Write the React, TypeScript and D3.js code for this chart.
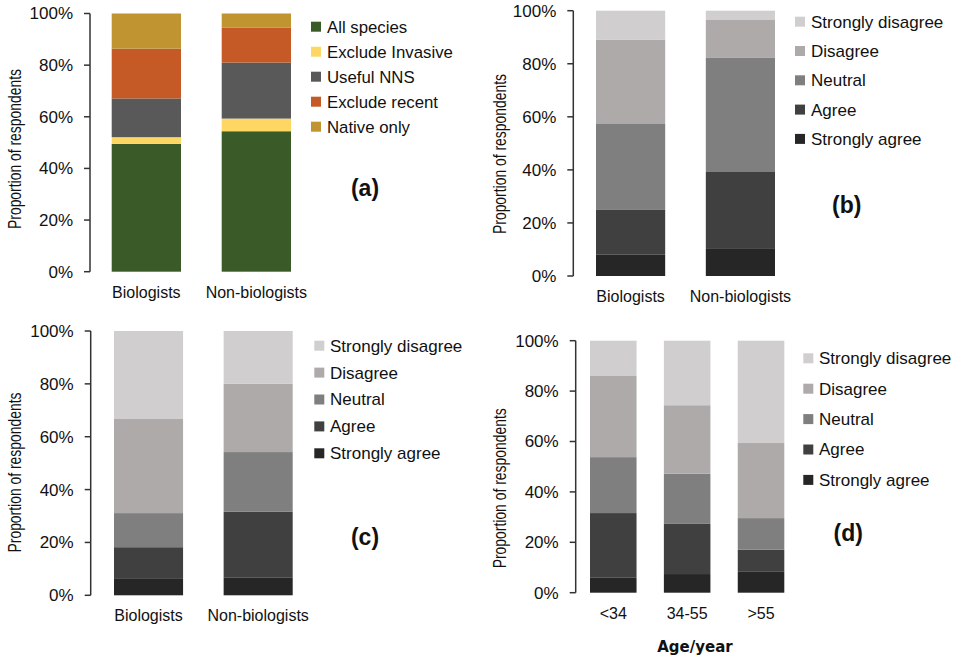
import * as d3 from "d3";

// panel (a): species lists
const listCategories = ["Biologists", "Non-biologists"];
const listSeries = ["All species", "Exclude Invasive", "Useful NNS", "Exclude recent", "Native only"];
const listBiologists = [49.5, 2.6, 15.0, 19.3, 13.6];
const listNonBiologists = [54.4, 4.9, 21.7, 13.6, 5.4];

// likert answers, bottom of stack first
const likertSeries = ["Strongly agree", "Agree", "Neutral", "Disagree", "Strongly disagree"];

// panel (b)
const bBiologists = [8.0, 16.9, 32.4, 31.7, 11.0];
const bNonBiologists = [10.2, 29.0, 43.0, 14.3, 3.5];

// panel (c)
const cBiologists = [6.2, 12.0, 12.9, 35.6, 33.3];
const cNonBiologists = [6.8, 24.8, 22.6, 25.8, 20.0];

// panel (d): by age
const ageCategories = ["<34", "34-55", ">55"];
const dUnder34 = [6.1, 25.5, 22.2, 32.2, 14.0];
const d34to55 = [7.4, 19.9, 19.9, 27.2, 25.6];
const dOver55 = [8.5, 8.6, 12.5, 29.8, 40.6];

const yTicks = [0, 0.2, 0.4, 0.6, 0.8, 1];

const listColors = ["#3a5a27", "#fdd664", "#595959", "#c55a26", "#bf9431"];
const greyColors = ["#262626", "#404040", "#7f7f7f", "#aeaaaa", "#d0cece"];

const FONT = "'Liberation Sans', Arial, sans-serif";

interface PanelProps {
  categories: string[];
  series: string[];
  rows: number[][];
  colors: string[];
  axisX: number;
  yTop: number;
  yBottom: number;
  barStart: number;
  barEnd: number;
  titleX: number;
  titleY: number;
  legendSquareX: number;
  legendTextX: number;
  legendY: number;
  legendStep: number;
  legendFont: number;
  legendReversed: boolean;
  label: string;
  labelX: number;
  labelY: number;
}

function Panel(p: PanelProps) {
  const table = p.categories.map((c, i) => {
    const row: any = { category: c };
    p.series.forEach((s, j) => (row[s] = p.rows[i][j] / 100));
    return row;
  });
  const stacked = d3.stack<any>().keys(p.series)(table);

  const x = d3
    .scaleBand<string>()
    .domain(p.categories)
    .range([p.barStart, p.barEnd])
    .paddingInner(0.37)
    .paddingOuter(0);
  const y = d3.scaleLinear().domain([0, 1]).range([p.yBottom, p.yTop]);
  const fmt = d3.format(".0%");

  const legendItems = p.series.map((s, i) => ({ name: s, color: p.colors[i] }));
  if (p.legendReversed) legendItems.reverse();

  return (
    <g fontFamily={FONT}>
      {stacked.map((layer, i) => (
        <g key={layer.key} fill={p.colors[i]}>
          {layer.map((d, j) => (
            <rect
              key={j}
              x={x(p.categories[j])}
              y={y(d[1])}
              width={x.bandwidth()}
              height={y(d[0]) - y(d[1])}
            />
          ))}
        </g>
      ))}

      <line x1={p.axisX} x2={p.axisX} y1={p.yTop} y2={p.yBottom} stroke="#333" strokeWidth={1.5} />
      {yTicks.map((t) => (
        <g key={t}>
          <line x1={p.axisX - 6} x2={p.axisX} y1={y(t)} y2={y(t)} stroke="#333" strokeWidth={1.5} />
          <text x={p.axisX - 17} y={y(t)} dy="0.35em" textAnchor="end" fontSize={17} fill="#111">
            {fmt(t)}
          </text>
        </g>
      ))}

      {p.categories.map((c) => (
        <text
          key={c}
          x={(x(c) as number) + x.bandwidth() / 2}
          y={p.yBottom + 26}
          textAnchor="middle"
          fontSize={16}
          fill="#111"
        >
          {c}
        </text>
      ))}

      <text
        transform={`translate(${p.titleX},${p.titleY}) rotate(-90)`}
        textAnchor="middle"
        fontSize={18}
        textLength={160}
        lengthAdjust="spacingAndGlyphs"
        fill="#111"
      >
        Proportion of respondents
      </text>

      {legendItems.map((item, i) => {
        const cy = p.legendY + i * p.legendStep;
        return (
          <g key={item.name}>
            <rect x={p.legendSquareX} y={cy - 5} width={10} height={10} fill={item.color} />
            <text x={p.legendTextX} y={cy} dy="0.35em" fontSize={p.legendFont} fill="#111">
              {item.name}
            </text>
          </g>
        );
      })}

      <text
        x={p.labelX}
        y={p.labelY}
        dy="0.35em"
        textAnchor="middle"
        fontSize={23}
        fontWeight="bold"
        fill="#111"
      >
        {p.label}
      </text>
    </g>
  );
}

export default function App() {
  return (
    <div style={{ position: "absolute", left: 0, top: 0 }}>
      <svg width={960} height={658} style={{ display: "block", background: "#fff" }}>
        <Panel
          categories={listCategories}
          series={listSeries}
          rows={[listBiologists, listNonBiologists]}
          colors={listColors}
          axisX={90}
          yTop={13.5}
          yBottom={271.7}
          barStart={111.7}
          barEnd={291}
          titleX={21.2}
          titleY={149}
          legendSquareX={311}
          legendTextX={327}
          legendY={26.7}
          legendStep={25}
          legendFont={16.8}
          legendReversed={false}
          label="(a)"
          labelX={365}
          labelY={188}
        />
        <Panel
          categories={listCategories}
          series={likertSeries}
          rows={[bBiologists, bNonBiologists]}
          colors={greyColors}
          axisX={573.3}
          yTop={10.7}
          yBottom={276}
          barStart={596}
          barEnd={775}
          titleX={505.5}
          titleY={154}
          legendSquareX={795}
          legendTextX={811}
          legendY={21.7}
          legendStep={29.3}
          legendFont={17}
          legendReversed={true}
          label="(b)"
          labelX={846.7}
          labelY={205}
        />
        <Panel
          categories={listCategories}
          series={likertSeries}
          rows={[cBiologists, cNonBiologists]}
          colors={greyColors}
          axisX={90.7}
          yTop={331}
          yBottom={595.3}
          barStart={114}
          barEnd={292.7}
          titleX={21.2}
          titleY={472.5}
          legendSquareX={314.3}
          legendTextX={330}
          legendY={345.7}
          legendStep={26.9}
          legendFont={17}
          legendReversed={true}
          label="(c)"
          labelX={365}
          labelY={536.7}
        />
        <Panel
          categories={ageCategories}
          series={likertSeries}
          rows={[dUnder34, d34to55, dOver55]}
          colors={greyColors}
          axisX={575.7}
          yTop={340.7}
          yBottom={592.7}
          barStart={590}
          barEnd={784.3}
          titleX={506.2}
          titleY={488.3}
          legendSquareX={803.3}
          legendTextX={819}
          legendY={358.3}
          legendStep={30.4}
          legendFont={17}
          legendReversed={true}
          label="(d)"
          labelX={848.3}
          labelY={533.3}
        />
        <text
          x={695}
          y={646.7}
          dy="0.35em"
          textAnchor="middle"
          fontFamily="'DejaVu Sans', Verdana, sans-serif"
          fontWeight="bold"
          fontSize={15}
          fill="#111"
        >
          Age/year
        </text>
      </svg>
    </div>
  );
}
